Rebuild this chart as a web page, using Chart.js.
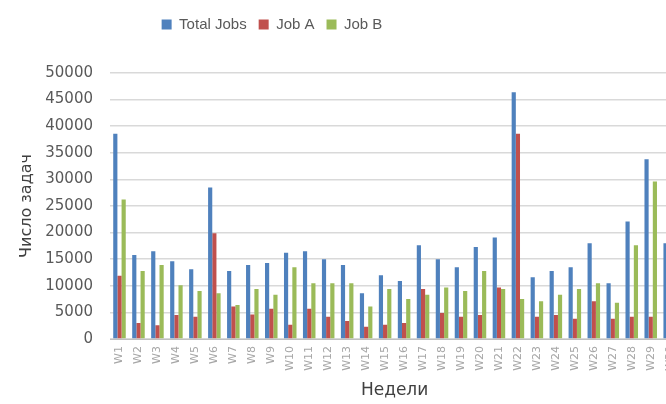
<!DOCTYPE html>
<html lang="ru">
<head>
  <meta charset="UTF-8">
  <title>Число задач по неделям</title>
  <style>
    html, body { margin: 0; padding: 0; background: #fff; overflow: hidden; }
    #wrap { position: relative; width: 690px; height: 404px; }
  </style>
</head>
<body>
  <div id="wrap"><canvas id="grafica"></canvas></div>
  <script src="https://cdn.jsdelivr.net/npm/chart.js"></script>
  <script>
    // Datos (W30 está cortado a la derecha)
    const semanas = ["W1", "W2", "W3", "W4", "W5", "W6", "W7", "W8", "W9", "W10",
      "W11", "W12", "W13", "W14", "W15", "W16", "W17", "W18", "W19", "W20",
      "W21", "W22", "W23", "W24", "W25", "W26", "W27", "W28", "W29", "W30"];
    const totalJobs = [38600, 15800, 16500, 14600, 13100, 28500, 12800, 13900, 14300, 16200,
      16500, 15000, 13900, 8600, 12000, 10900, 17600, 15000, 13500, 17300,
      19100, 46400, 11600, 12800, 13500, 18000, 10500, 22100, 33800, 18000];
    const jobA = [11900, 3000, 2600, 4500, 4200, 19900, 6100, 4600, 5700, 2700,
      5700, 4200, 3400, 2300, 2700, 3000, 9400, 4900, 4200, 4500,
      9700, 38600, 4200, 4500, 3800, 7100, 3800, 4200, 4200, null];
    const jobB = [26200, 12800, 13900, 10100, 9000, 8600, 6400, 9400, 8300, 13500,
      10500, 10500, 10500, 6100, 9400, 7500, 8300, 9700, 9000, 12800,
      9400, 7500, 7100, 8300, 9400, 10500, 6800, 17600, 29600, null];
    const ticksY = [0, 5000, 10000, 15000, 20000, 25000, 30000, 35000, 40000, 45000, 50000];

    // Leyenda: centrarla como en el original y dejar espacio debajo
    const leyendaPos = {
      id: "leyendaPos",
      beforeInit(chart) {
        const fitOrig = chart.legend.fit;
        chart.legend.fit = function () {
          fitOrig.call(this);
          this.height += 31;
        };
      },
      beforeDraw(chart) {
        chart.legend.left = 0;
        chart.legend.right = 544;
      }
    };

    const datos = {
      labels: semanas,
      datasets: [
        { label: "Total Jobs", data: totalJobs, backgroundColor: "#4f81bd" },
        { label: "Job A", data: jobA, backgroundColor: "#c0504d" },
        { label: "Job B", data: jobB, backgroundColor: "#9bbb59" }
      ]
    };

    const config = {
      type: "bar",
      data: datos,
      options: {
        responsive: true,
        maintainAspectRatio: false,
        animation: false,
        datasets: { bar: { categoryPercentage: 0.66, barPercentage: 1.0 } },
        layout: { padding: { top: 5, right: 6, bottom: 0, left: 0 } },
        plugins: {
          legend: {
            display: true,
            position: "top",
            labels: {
              boxWidth: 10,
              boxHeight: 10,
              padding: 12,
              color: "#595959",
              font: { family: "Liberation Sans", size: 15 }
            }
          },
          title: { display: false },
          tooltip: { enabled: false }
        },
        scales: {
          x: {
            grid: { display: false, drawTicks: false },
            border: { display: true, color: "#bfbfbf" },
            ticks: {
              autoSkip: false,
              minRotation: 90,
              maxRotation: 90,
              padding: 7,
              color: "#a6a6a6",
              font: { family: "DejaVu Sans", size: 11 }
            },
            title: {
              display: true,
              text: "Недели",
              color: "#404040",
              padding: { top: 0, bottom: 3 },
              font: { family: "DejaVu Sans", size: 17 }
            },
            afterFit(scale) { scale.height = 65; }
          },
          y: {
            min: 0,
            max: 50000,
            grid: { color: "#d9d9d9", lineWidth: 1.5, drawTicks: false },
            border: { display: false },
            afterBuildTicks(scale) { scale.ticks = ticksY.map(v => ({ value: v })); },
            ticks: {
              padding: 17,
              color: "#595959",
              font: { family: "DejaVu Sans", size: 15 },
              callback: v => String(v)
            },
            title: {
              display: true,
              text: "Число задач",
              color: "#404040",
              padding: { top: 17, bottom: 0 },
              font: { family: "DejaVu Sans", size: 16 }
            },
            afterFit(scale) { scale.width = 110; }
          }
        }
      },
      plugins: [leyendaPos]
    };

    const ctx = document.getElementById("grafica").getContext("2d");
    window.grafica = new Chart(ctx, config);
  </script>
</body>
</html>
